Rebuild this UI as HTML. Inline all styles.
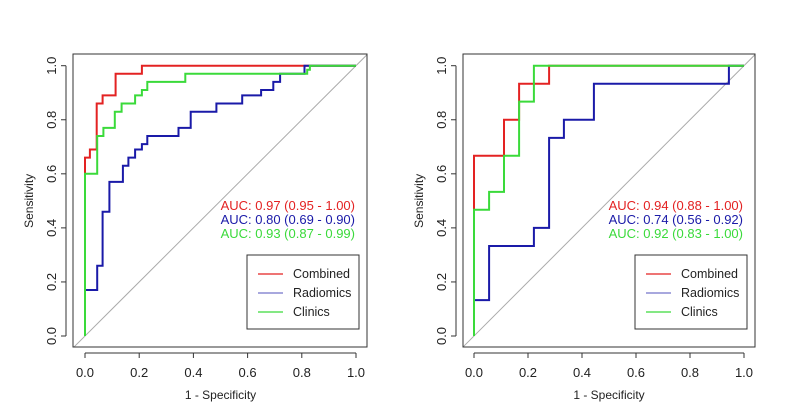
<!DOCTYPE html>
<html><head><meta charset="utf-8"><style>
html,body{margin:0;padding:0;background:#fff;}
svg{display:block;font-family:"Liberation Sans",Arial,sans-serif;}
</style></head><body>
<svg id="c" width="796" height="407" viewBox="0 0 796 407"></svg>
<script>
const xTicks=[0,0.2,0.4,0.6,0.8,1.0];
const yTicks=[0,0.2,0.4,0.6,0.8,1.0];
const tickLabels=["0.0","0.2","0.4","0.6","0.8","1.0"];
const seriesNames=["Combined","Radiomics","Clinics"];
const seriesColors=["#e32222","#1a1aa8","#3ada3a"];
// left panel step vertices (fpr, tpr)
const leftCombinedX=[0,0,0.018,0.018,0.043,0.043,0.065,0.065,0.113,0.113,0.21,0.21,1];
const leftCombinedY=[0.6,0.66,0.66,0.69,0.69,0.86,0.86,0.89,0.89,0.97,0.97,1,1];
const leftRadiomicsX=[0,0,0.045,0.045,0.065,0.065,0.09,0.09,0.14,0.14,0.16,0.16,0.185,0.185,0.21,0.21,0.23,0.23,0.345,0.345,0.39,0.39,0.485,0.485,0.58,0.58,0.65,0.65,0.695,0.695,0.72,0.72,0.81,0.81,1];
const leftRadiomicsY=[0,0.17,0.17,0.26,0.26,0.46,0.46,0.57,0.57,0.63,0.63,0.66,0.66,0.69,0.69,0.71,0.71,0.74,0.74,0.77,0.77,0.83,0.83,0.86,0.86,0.89,0.89,0.91,0.91,0.94,0.94,0.97,0.97,1,1];
const leftClinicsX=[0,0,0.045,0.045,0.068,0.068,0.11,0.11,0.135,0.135,0.16,0.16,0.185,0.185,0.21,0.21,0.23,0.23,0.345,0.345,0.37,0.37,0.82,0.82,0.83,0.83,1];
const leftClinicsY=[0,0.6,0.6,0.74,0.74,0.77,0.77,0.83,0.83,0.86,0.86,0.86,0.86,0.89,0.89,0.91,0.91,0.94,0.94,0.94,0.94,0.97,0.97,0.985,0.985,1,1];
// right panel
const rightCombinedX=[0,0,0.111,0.111,0.167,0.167,0.278,0.278,1];
const rightCombinedY=[0.47,0.667,0.667,0.8,0.8,0.933,0.933,1,1];
const rightRadiomicsX=[0,0,0.056,0.056,0.222,0.222,0.278,0.278,0.333,0.333,0.444,0.444,0.944,0.944,1];
const rightRadiomicsY=[0,0.133,0.133,0.333,0.333,0.4,0.4,0.733,0.733,0.8,0.8,0.933,0.933,1,1];
const rightClinicsX=[0,0,0.056,0.056,0.111,0.111,0.167,0.167,0.222,0.222,1];
const rightClinicsY=[0,0.467,0.467,0.533,0.533,0.667,0.667,0.867,0.867,1,1];
const leftAuc=["AUC: 0.97 (0.95 - 1.00)","AUC: 0.80 (0.69 - 0.90)","AUC: 0.93 (0.87 - 0.99)"];
const rightAuc=["AUC: 0.94 (0.88 - 1.00)","AUC: 0.74 (0.56 - 0.92)","AUC: 0.92 (0.83 - 1.00)"];

const svg=document.getElementById('c');
const NS="http://www.w3.org/2000/svg";
function mk(tag,attrs,parent){const e=document.createElementNS(NS,tag);for(const k in attrs)e.setAttribute(k,attrs[k]);(parent||svg).appendChild(e);return e;}

function panel(p){
  const g=mk('g',{});
  
  
  const sx=v=>p.x0+v*(p.x1-p.x0);
  const sy=v=>336-v*270.3;
  const d=mk('line',{x1:sx(-0.04),y1:sy(-0.04),x2:sx(1.04),y2:sy(1.04),stroke:'#aaa','stroke-width':1},g);
  
  
  const b=mk('rect',{x:p.bx0,y:54,width:p.bx1-p.bx0,height:293,fill:'none',stroke:'#333','stroke-width':1},g);
  
  
  const xa=mk('g',{},g);
  
  
  mk('line',{x1:sx(0),x2:sx(1),y1:353,y2:353,stroke:'#333'},xa);
  xTicks.forEach((t,i)=>{
    mk('line',{x1:sx(t),x2:sx(t),y1:353,y2:358,stroke:'#333'},xa);
    const tx=mk('text',{x:sx(t),y:377,'text-anchor':'middle','font-size':13,fill:'#222'},xa);
    tx.textContent=tickLabels[i];
    
    
  });
  const xt=mk('text',{x:sx(0.5),y:399,'text-anchor':'middle','font-size':12,fill:'#222'},g);
  xt.textContent='1 - Specificity';
  
  
  const ya=mk('g',{},g);
  
  
  const ax=p.bx0-7;
  mk('line',{x1:ax,x2:ax,y1:sy(0),y2:sy(1),stroke:'#333'},ya);
  yTicks.forEach((t,i)=>{
    mk('line',{x1:ax-5,x2:ax,y1:sy(t),y2:sy(t),stroke:'#333'},ya);
    const tx=mk('text',{x:0,y:0,'text-anchor':'middle','font-size':13,fill:'#222',transform:`translate(${ax-10},${sy(t)}) rotate(-90)`},ya);
    tx.textContent=tickLabels[i];
    
    
  });
  const yt=mk('text',{x:0,y:0,'text-anchor':'middle','font-size':12,fill:'#222',transform:`translate(${ax-33},${sy(0.5)}) rotate(-90)`},g);
  yt.textContent='Sensitivity';
  
  
  p.series.forEach((s,k)=>{
    const pts=s[0].map((v,i)=>sx(v).toFixed(1)+','+sy(s[1][i]).toFixed(1)).join(' ');
    const pl=mk('polyline',{points:pts,fill:'none',stroke:seriesColors[k],'stroke-width':2},g);
    
    
  });
  p.auc.forEach((a,k)=>{
    const tx=mk('text',{x:p.bx1-12,y:210+k*14,'text-anchor':'end','font-size':13,fill:seriesColors[k]},g);
    tx.textContent=a;
    
    
  });
  const lg=mk('g',{},g);
  
  
  const lx=p.bx1-120;
  mk('rect',{x:lx,y:255,width:112,height:74,fill:'#fff',stroke:'#333'},lg);
  seriesNames.forEach((n,k)=>{
    const y=274+k*19;
    const e=mk('g',{},lg);
    
    
    mk('line',{x1:lx+11,x2:lx+36,y1:y,y2:y,stroke:seriesColors[k],'stroke-width':1.3,opacity:k==1?0.6:1},e);
    const t=mk('text',{x:lx+46,y:y+4,'font-size':12.5,fill:'#222'},e);
    t.textContent=n;
  });
}
panel({name:'left-roc-panel',x0:85,x1:356,bx0:73,bx1:367,auc:leftAuc,
  series:[[leftCombinedX,leftCombinedY],[leftRadiomicsX,leftRadiomicsY],[leftClinicsX,leftClinicsY]]});
panel({name:'right-roc-panel',x0:474,x1:744,bx0:463,bx1:755,auc:rightAuc,
  series:[[rightCombinedX,rightCombinedY],[rightRadiomicsX,rightRadiomicsY],[rightClinicsX,rightClinicsY]]});
</script>
</body></html>
